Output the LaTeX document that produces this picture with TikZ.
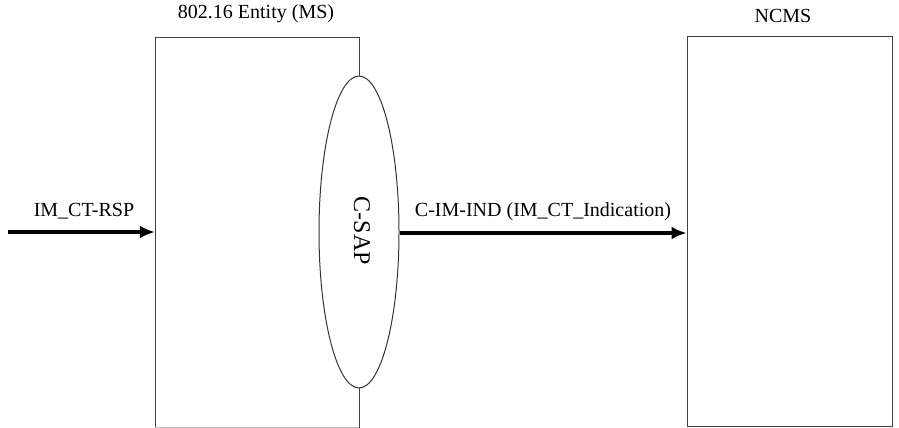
\documentclass[tikz,border=0pt]{standalone}
\usepackage{fontspec}
\setmainfont{Liberation Serif}
\usetikzlibrary{arrows.meta,shapes.geometric}
\begin{document}
\begin{tikzpicture}[x=1pt,y=-1pt,
  entitybox/.style={draw=black!75,line width=1pt,rectangle,inner sep=0pt},
  sapshape/.style={draw=black!80,line width=1pt,ellipse,fill=white,inner sep=0pt},
  msgarrow/.style={line width=3.5pt,-{Latex[length=15pt,width=13pt]}},
  lbl/.style={font=\fontsize{20}{22}\selectfont,inner sep=0pt}]
  \useasboundingbox (0,0) rectangle (899,428);
  % MS entity box (its bottom edge sits on the page border)
  \draw[black!75,line width=1pt] (155,428) -- (155,38) -- (359,38) -- (359,428);
  \draw[black!25,line width=1pt] (155,427.5) -- (359,427.5);
  \node[inner sep=0pt,minimum width=204pt,minimum height=390pt] (ms) at (257,233) {};
  % NCMS box
  \node[entitybox,minimum width=205pt,minimum height=389pt] (ncms) at (789.5,231.5) {};
  % Control SAP
  \node[sapshape,minimum width=80pt,minimum height=312pt] (csap) at (359,232) {};
  \node[lbl,font=\fontsize{24}{26}\selectfont,rotate=-90] (csaptxt) at (362,231) {C-SAP};
  % titles
  \node[lbl] (mstitle) at (256,14) {802.16 Entity (MS)};
  \node[lbl] (ncmstitle) at (783,16) {NCMS};
  % messages
  \coordinate (src) at (8,232);
  \draw[msgarrow] (src) -- (ms.west |- src);
  \node[lbl] (rsp) at (84,211) {IM\_CT-RSP};
  \draw[msgarrow] (csap.east |- 0,233) -- (ncms.west |- 0,233);
  \node[lbl] (ind) at (543,212) {C-IM-IND (IM\_CT\_Indication)};
\end{tikzpicture}
\end{document}
